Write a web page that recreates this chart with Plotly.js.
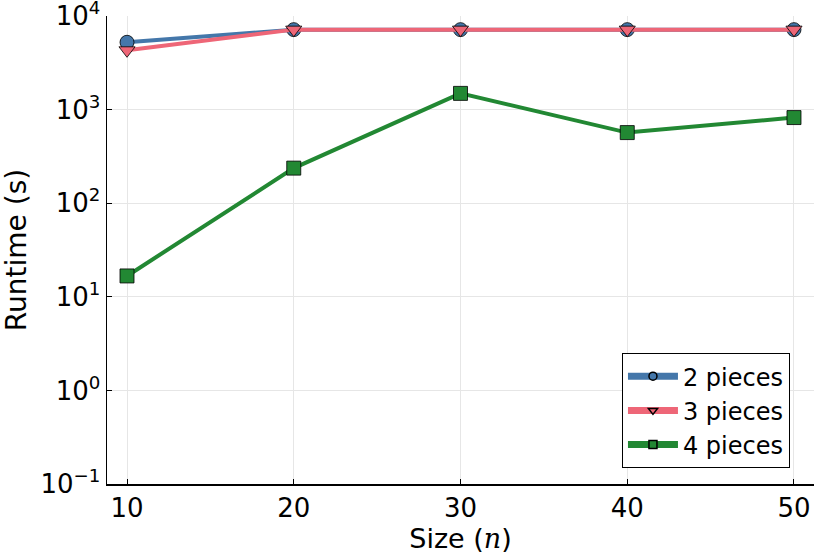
<!DOCTYPE html>
<html>
<head>
<meta charset="utf-8">
<script src="https://cdn.plot.ly/plotly-3.0.1.min.js"></script>
<style>html,body{margin:0;padding:0;background:#fff;}#chart{width:830px;height:554px;}</style>
</head>
<body>
<div id="chart"></div>
<script>
// Data
const sizes = [10, 20, 30, 40, 50];
const runtime2 = [5240, 7150, 7150, 7150, 7150];
const runtime3 = [4300, 7150, 7150, 7150, 7150];
const runtime4 = [16.7, 237, 1490, 568, 822];
const seriesNames = ["2 pieces", "3 pieces", "4 pieces"];
const yTickVals = [0.1, 1, 10, 100, 1000, 10000];
const yTickText = ["10<sup>−1</sup>", "10<sup>0</sup>", "10<sup>1</sup>", "10<sup>2</sup>", "10<sup>3</sup>", "10<sup>4</sup>"];
const xTickVals = [10, 20, 30, 40, 50];

const colors = ["#4477AA", "#EE6677", "#228833"];
const symbols = ["circle", "triangle-down", "square"];
const ys = [runtime2, runtime3, runtime4];
const FONT = "DejaVu Sans, sans-serif";

const traces = [];
for (let i = 0; i < 3; i++) {
  traces.push({
    x: sizes, y: ys[i], type: "scatter", mode: "lines+markers",
    name: seriesNames[i], showlegend: false, cliponaxis: false,
    line: {color: colors[i], width: 4},
    marker: {symbol: symbols[i], size: 14, color: colors[i], line: {color: "rgba(0,0,0,0.8)", width: 1}}
  });
}
// legend-only entries (thicker lines, small markers, as in the reference legend)
for (let i = 0; i < 3; i++) {
  traces.push({
    x: [null], y: [null], type: "scatter", mode: "lines+markers",
    name: seriesNames[i], showlegend: true,
    line: {color: colors[i], width: 7},
    marker: {symbol: symbols[i], size: 8, color: colors[i], line: {color: "#000", width: 1.5}}
  });
}

const layout = {
  width: 830, height: 554,
  paper_bgcolor: "#fff", plot_bgcolor: "#fff",
  margin: {l: 107, r: 16, t: 16, b: 70},
  font: {family: FONT, color: "#000", size: 26},
  showlegend: true,
  legend: {
    x: 0.966, y: 0.034, xanchor: "right", yanchor: "bottom",
    bordercolor: "#000", borderwidth: 1, bgcolor: "#fff",
    font: {family: FONT, size: 24, color: "#000"},
    itemwidth: 50, tracegroupgap: 0
  },
  xaxis: {
    range: [8.8, 51.2], tickvals: xTickVals, ticktext: xTickVals.map(String),
    ticks: "inside", ticklen: 5, tickwidth: 1, tickcolor: "#000",
    showline: true, linecolor: "#000", linewidth: 1.5, mirror: false,
    showgrid: true, gridcolor: "#e6e6e6", gridwidth: 1, zeroline: false,
    tickfont: {family: FONT, size: 26}, ticklabeloverflow: "allow",
    title: {text: "Size (<span style=\"font-family:'DejaVu Serif',serif\"><i>n</i></span>)", font: {family: FONT, size: 27}, standoff: 2},
    automargin: false
  },
  yaxis: {
    type: "log", range: [-1, 4], tickvals: yTickVals, ticktext: yTickText,
    ticks: "inside", ticklen: 5, tickwidth: 1, tickcolor: "#000",
    showline: true, linecolor: "#000", linewidth: 1.5, mirror: false,
    showgrid: true, gridcolor: "#e6e6e6", gridwidth: 1, zeroline: false,
    tickfont: {family: FONT, size: 26}, ticklabeloverflow: "allow",
    title: {text: "Runtime (s)", font: {family: FONT, size: 28}, standoff: 6},
    automargin: false
  }
};

Plotly.newPlot("chart", traces, layout, {displayModeBar: false, staticPlot: true});
</script>
</body>
</html>
